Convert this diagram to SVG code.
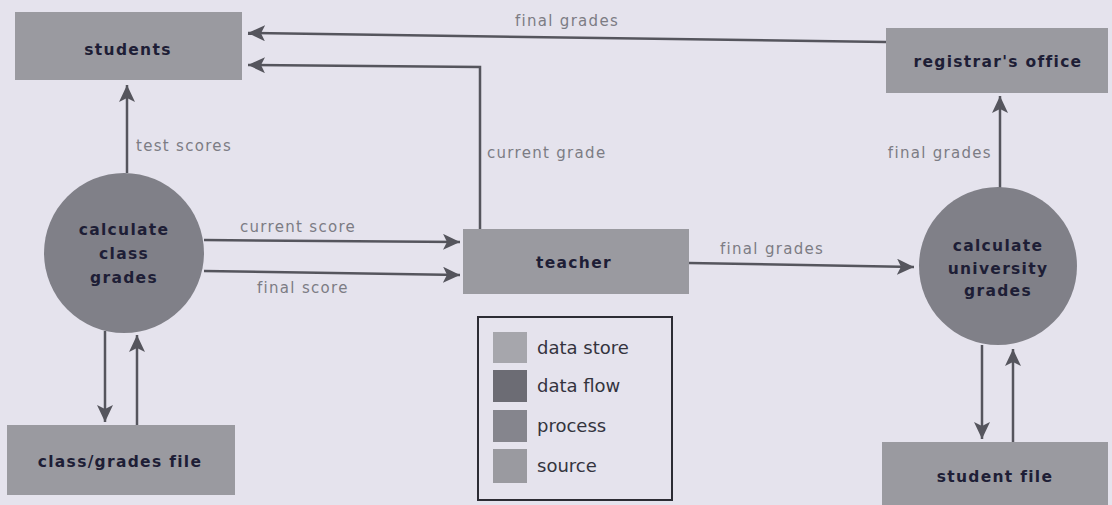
<svg xmlns="http://www.w3.org/2000/svg" width="1112" height="505" viewBox="0 0 1112 505">
  <style>
    .bg { fill: #e5e3ed; }
    .box { fill: #9a9aa0; }
    .proc { fill: #808088; }
    .ntext { font-family: "DejaVu Sans", sans-serif; font-weight: bold; font-size: 15.5px; letter-spacing: 1.3px; fill: #1e1e36; text-anchor: middle; }
    .lbl { font-family: "DejaVu Sans", sans-serif; font-size: 15px; letter-spacing: 1.3px; fill: #7c7c84; }
    .flow { fill: none; stroke: #55555d; stroke-width: 2.5; marker-end: url(#ah); }
    .legtext { font-family: "DejaVu Sans", sans-serif; font-size: 18px; fill: #34343e; }
  </style>
  <defs>
    <marker id="ah" markerUnits="userSpaceOnUse" markerWidth="18" markerHeight="16" refX="17" refY="8" orient="auto">
      <path d="M0,0 L17,8 L0,16 L4,8 Z" fill="#55555d"/>
    </marker>
  </defs>
  <rect class="bg" x="0" y="0" width="1112" height="505"/>

  <g id="connectors">
    <path class="flow" d="M886,42 L248,33"/>
    <text class="lbl" x="567" y="26" text-anchor="middle">final grades</text>

    <path class="flow" d="M480,229 L480,67 L248,65"/>
    <text class="lbl" x="487" y="158">current grade</text>

    <path class="flow" d="M127,173 L127,85"/>
    <text class="lbl" x="136" y="151">test scores</text>

    <path class="flow" d="M204,240 L460,242"/>
    <text class="lbl" x="240" y="232">current score</text>

    <path class="flow" d="M204,271 L460,275"/>
    <text class="lbl" x="257" y="293">final score</text>

    <path class="flow" d="M689,263 L914,267"/>
    <text class="lbl" x="720" y="254">final grades</text>

    <path class="flow" d="M1000,188 L1000,96"/>
    <text class="lbl" x="992" y="158" text-anchor="end">final grades</text>

    <path class="flow" d="M105,331 L105,422"/>
    <path class="flow" d="M137,425 L137,335"/>

    <path class="flow" d="M982,345 L982,439"/>
    <path class="flow" d="M1013,442 L1013,349"/>
  </g>

  <g id="students">
    <rect class="box" x="15" y="12" width="227" height="68"/>
    <text class="ntext" x="128" y="55">students</text>
  </g>

  <g id="registrars-office">
    <rect class="box" x="886" y="28" width="222" height="65"/>
    <text class="ntext" x="998" y="67">registrar's office</text>
  </g>

  <g id="calculate-class-grades">
    <circle class="proc" cx="124" cy="253" r="80"/>
    <text class="ntext" x="124" y="235">calculate</text>
    <text class="ntext" x="124" y="259">class</text>
    <text class="ntext" x="124" y="283">grades</text>
  </g>

  <g id="teacher">
    <rect class="box" x="463" y="229" width="226" height="65"/>
    <text class="ntext" x="574" y="268">teacher</text>
  </g>

  <g id="calculate-university-grades">
    <circle class="proc" cx="998" cy="266" r="79"/>
    <text class="ntext" x="998" y="251">calculate</text>
    <text class="ntext" x="998" y="274">university</text>
    <text class="ntext" x="998" y="296">grades</text>
  </g>

  <g id="class-grades-file">
    <rect class="box" x="7" y="425" width="228" height="70"/>
    <text class="ntext" x="120" y="467">class/grades file</text>
  </g>

  <g id="student-file">
    <rect class="box" x="882" y="442" width="226" height="63"/>
    <text class="ntext" x="995" y="482">student file</text>
  </g>

  <g id="legend">
    <rect x="478" y="317" width="194" height="183" fill="none" stroke="#2c2c34" stroke-width="2"/>
    <rect x="493" y="332" width="34" height="31" fill="#a6a6ac"/>
    <text class="legtext" x="537" y="354">data store</text>
    <rect x="493" y="370" width="34" height="32" fill="#6c6c74"/>
    <text class="legtext" x="537" y="392">data flow</text>
    <rect x="493" y="410" width="34" height="32" fill="#85858d"/>
    <text class="legtext" x="537" y="432">process</text>
    <rect x="493" y="449" width="34" height="34" fill="#9a9aa0"/>
    <text class="legtext" x="537" y="472">source</text>
  </g>
</svg>
